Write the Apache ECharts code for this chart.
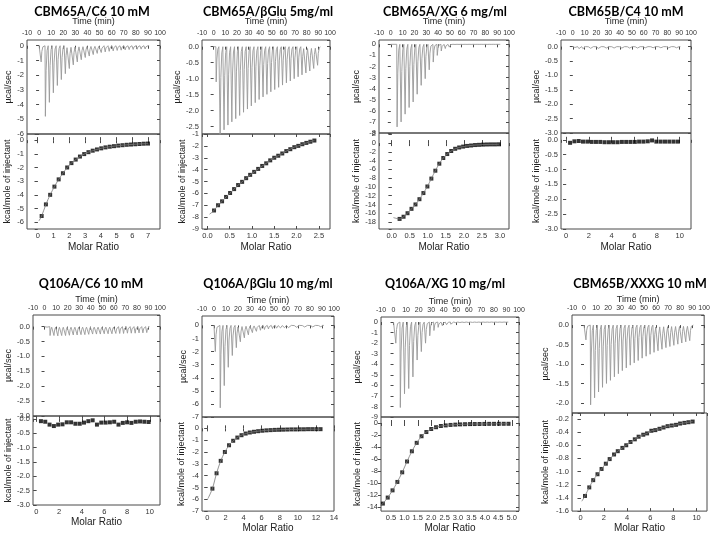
<!DOCTYPE html>
<html><head><meta charset="utf-8">
<script src="https://cdn.jsdelivr.net/npm/echarts@6/dist/echarts.min.js"></script>
<style>html,body{margin:0;padding:0;background:#fff}#c{width:713px;height:534px}</style>
</head><body><div id="c"></div><script>
// ---------------- DATA ----------------
const titles = ['CBM65A/C6 10 mM','CBM65A/\u03B2Glu 5mg/ml','CBM65A/XG 6 mg/ml','CBM65B/C4 10 mM',
                'Q106A/C6 10 mM','Q106A/\u03B2Glu 10 mg/ml','Q106A/XG 10 mg/ml','CBM65B/XXXG 10 mM'];
const timeTicks = [-10,0,10,20,30,40,50,60,70,80,90,100];

// Panel 1 CBM65A/C6
const p1Span = [0, 91];
const p1InjTime = [1.4,4.9,8.2,11.5,14.8,18.1,21.4,24.7,28.0,31.3,34.6,37.9,41.2,44.5,47.8,51.1,54.4,57.7,61.0,64.3,67.6,70.9,74.2,77.5,80.8,84.1,87.4];
const p1InjPeak = [-1.1,-4.8,-3.85,-3.2,-2.7,-2.3,-1.9,-1.55,-1.3,-1.1,-0.95,-0.8,-0.7,-0.6,-0.52,-0.46,-0.42,-0.38,-0.35,-0.32,-0.3,-0.28,-0.26,-0.25,-0.24,-0.23,-0.22];
const p1Ratio = [0.25,0.52,0.79,1.06,1.33,1.6,1.87,2.14,2.41,2.68,2.95,3.22,3.49,3.76,4.03,4.3,4.57,4.84,5.11,5.38,5.65,5.92,6.19,6.46,6.73,7.0];
const p1Heat = [-5.55,-4.7,-4.0,-3.4,-2.87,-2.42,-2.0,-1.68,-1.42,-1.2,-1.02,-0.88,-0.77,-0.68,-0.6,-0.53,-0.48,-0.44,-0.4,-0.37,-0.34,-0.32,-0.3,-0.28,-0.26,-0.25];
const p1FitStart = [0.08, -5.9];

// Panel 2 CBM65A/bGlu
const p2Span = [0, 91];
const p2InjTime = [1.9,5.3,8.65,12.0,15.35,18.7,22.05,25.4,28.75,32.1,35.45,38.8,42.15,45.5,48.85,52.2,55.55,58.9,62.25,65.6,68.95,72.3,75.65,79.0,82.35,85.7,89.05];
const p2InjPeak = [-1.1,-2.75,-2.6,-2.45,-2.35,-2.25,-2.15,-2.05,-1.95,-1.85,-1.75,-1.65,-1.57,-1.49,-1.41,-1.34,-1.27,-1.2,-1.13,-1.07,-1.0,-0.94,-0.88,-0.82,-0.76,-0.68,-0.58];
const p2Ratio = [0.15,0.24,0.33,0.42,0.51,0.6,0.69,0.78,0.87,0.96,1.05,1.14,1.23,1.32,1.41,1.5,1.59,1.68,1.77,1.86,1.95,2.04,2.13,2.22,2.31,2.4];
const p2Heat = [-7.44,-7.0,-6.67,-6.3,-5.97,-5.64,-5.3,-5.03,-4.72,-4.44,-4.19,-3.94,-3.69,-3.47,-3.22,-3.0,-2.83,-2.64,-2.44,-2.28,-2.11,-2.0,-1.86,-1.75,-1.65,-1.55];
const p2FitStart = [0.05, -7.75];

// Panel 3 CBM65A/XG
const p3Span = [0, 92];
const p3InjTime = [5.0,8.4,11.8,15.2,18.6,22.0,25.4,28.8,32.2,35.6,39.0,42.4,45.8,49.2,52.6,56.0,59.4,62.8,66.2,69.6,73.0,76.4,79.8,83.2,86.6,90.0];
const p3InjPeak = [-7.45,-7.0,-6.3,-5.7,-5.2,-4.5,-3.7,-3.1,-2.3,-1.6,-1.0,-0.6,-0.38,-0.25,-0.18,-0.14,-0.12,-0.1,-0.09,-0.08,-0.08,-0.07,-0.07,-0.06,-0.06,-0.06];
const p3Ratio = [0.22,0.33,0.44,0.55,0.66,0.77,0.88,0.99,1.1,1.21,1.32,1.43,1.54,1.65,1.76,1.87,1.98,2.09,2.2,2.31,2.42,2.53,2.64,2.75,2.86,2.97];
const p3Heat = [-17.3,-16.8,-16.0,-15.0,-14.0,-12.8,-11.4,-9.9,-8.1,-6.3,-4.7,-3.4,-2.5,-1.8,-1.3,-1.0,-0.8,-0.65,-0.55,-0.45,-0.4,-0.35,-0.32,-0.3,-0.3,-0.28];
const p3FitStart = [0.05, -17.0];

// Panel 4 CBM65B/C4
const p4Span = [0, 91];
const p4InjTime = [1.5,4.9,8.2,11.5,14.8,18.1,21.4,24.7,28.0,31.3,34.6,37.9,41.2,44.5,47.8,51.1,54.4,57.7,61.0,64.3,67.6,70.9,74.2,77.5,80.8,84.1,87.4];
const p4InjPeak = [-0.03,-0.07,-0.07,-0.06,-0.06,-0.06,-0.06,-0.05,-0.05,-0.05,-0.05,-0.05,-0.05,-0.05,-0.05,-0.05,-0.05,-0.05,-0.04,-0.04,-0.04,-0.04,-0.04,-0.04,-0.04,-0.04,-0.04];
const p4Ratio = [0.35,0.73,1.11,1.49,1.87,2.25,2.63,3.01,3.39,3.77,4.15,4.53,4.91,5.29,5.67,6.05,6.43,6.81,7.19,7.57,7.95,8.33,8.71,9.09,9.47,9.85];
const p4Heat = [-0.1,-0.05,-0.04,-0.06,-0.06,-0.07,-0.07,-0.07,-0.08,-0.08,-0.08,-0.08,-0.07,-0.07,-0.07,-0.07,-0.06,-0.06,-0.05,-0.02,-0.06,-0.06,-0.06,-0.06,-0.06,-0.06];

// Panel 5 Q106A/C6
const p5Span = [0, 91];
const p5InjTime = [1.2,4.5,7.85,11.2,14.55,17.9,21.25,24.6,27.95,31.3,34.65,38.0,41.35,44.7,48.05,51.4,54.75,58.1,61.45,64.8,68.15,71.5,74.85,78.2,81.55,84.9,88.25];
const p5InjPeak = [-0.05,-0.3,-0.3,-0.31,-0.3,-0.3,-0.29,-0.28,-0.28,-0.27,-0.27,-0.26,-0.25,-0.25,-0.25,-0.24,-0.24,-0.24,-0.23,-0.23,-0.23,-0.22,-0.22,-0.22,-0.21,-0.21,-0.2];
const p5Ratio = [0.4,0.78,1.16,1.54,1.92,2.3,2.68,3.06,3.44,3.82,4.2,4.58,4.96,5.34,5.72,6.1,6.48,6.86,7.24,7.62,8.0,8.38,8.76,9.14,9.52,9.9];
const p5Heat = [-0.08,-0.1,-0.2,-0.25,-0.2,-0.19,-0.12,-0.12,-0.17,-0.17,-0.13,-0.08,-0.05,-0.2,-0.13,-0.13,-0.12,-0.1,-0.2,-0.14,-0.12,-0.14,-0.1,-0.09,-0.1,-0.11];

// Panel 6 Q106A/bGlu
const p6Span = [0, 90];
const p6InjTime = [0.8,4.9,8.25,11.6,14.95,18.3,21.65,25.0,28.35,31.7,35.05,38.4,41.75,45.1,48.45,51.8,55.15,58.5,61.85,65.2,68.55,71.9,75.25,78.6,81.95,85.3,88.65];
const p6InjPeak = [-2.0,-6.3,-4.6,-3.2,-2.3,-1.7,-1.25,-0.95,-0.72,-0.55,-0.45,-0.37,-0.31,-0.27,-0.24,-0.21,-0.19,-0.17,-0.16,-0.15,-0.14,-0.13,-0.12,-0.12,-0.11,-0.11,-0.1];
const p6Ratio = [0.55,1.01,1.47,1.93,2.39,2.85,3.31,3.77,4.23,4.69,5.15,5.61,6.07,6.53,6.99,7.45,7.91,8.37,8.83,9.29,9.75,10.21,10.67,11.13,11.59,12.05,12.51];
const p6Heat = [-5.1,-3.8,-2.75,-2.0,-1.43,-1.05,-0.78,-0.58,-0.44,-0.35,-0.29,-0.24,-0.2,-0.17,-0.15,-0.13,-0.12,-0.11,-0.1,-0.09,-0.09,-0.08,-0.08,-0.07,-0.07,-0.07,-0.07];
const p6FitStart = [0.05, -5.95];

// Panel 7 Q106A/XG
const p7Span = [0, 92];
const p7InjTime = [1.5,5.1,8.45,11.8,15.15,18.5,21.85,25.2,28.55,31.9,35.25,38.6,41.95,45.3,48.65,52.0,55.35,58.7,62.05,65.4,68.75,72.1,75.45,78.8,82.15,85.5,88.85];
const p7InjPeak = [-2.0,-8.1,-6.8,-6.3,-5.2,-3.6,-2.8,-2.0,-1.3,-0.8,-0.5,-0.35,-0.25,-0.2,-0.16,-0.13,-0.11,-0.1,-0.09,-0.08,-0.08,-0.07,-0.07,-0.06,-0.06,-0.06,-0.05];
const p7Ratio = [0.2,0.38,0.56,0.74,0.92,1.1,1.28,1.46,1.64,1.82,2.0,2.18,2.36,2.54,2.72,2.9,3.08,3.26,3.44,3.62,3.8,3.98,4.16,4.34,4.52,4.7,4.88];
const p7Heat = [-13.4,-12.4,-11.2,-9.8,-8.2,-6.4,-4.7,-3.3,-2.2,-1.5,-1.0,-0.7,-0.5,-0.4,-0.32,-0.27,-0.23,-0.2,-0.18,-0.17,-0.16,-0.15,-0.14,-0.14,-0.13,-0.13,-0.13];
const p7FitStart = [0.12, -13.7];

// Panel 8 CBM65B/XXXG
const p8Span = [0, 91];
const p8InjTime = [1.3,5.2,8.5,11.8,15.1,18.4,21.7,25.0,28.3,31.6,34.9,38.2,41.5,44.8,48.1,51.4,54.7,58.0,61.3,64.6,67.9,71.2,74.5,77.8,81.1,84.4,87.7];
const p8InjPeak = [-0.38,-2.05,-1.87,-1.72,-1.6,-1.5,-1.42,-1.33,-1.25,-1.17,-1.1,-1.03,-0.97,-0.91,-0.85,-0.8,-0.75,-0.7,-0.66,-0.62,-0.58,-0.55,-0.52,-0.49,-0.46,-0.43,-0.4];
const p8Ratio = [0.37,0.74,1.08,1.45,1.8,2.17,2.5,2.88,3.2,3.6,3.93,4.3,4.67,5.0,5.4,5.73,6.1,6.44,6.8,7.15,7.5,7.86,8.23,8.58,8.95,9.3,9.66];
const p8Heat = [-1.37,-1.24,-1.13,-1.04,-0.96,-0.88,-0.81,-0.74,-0.69,-0.64,-0.6,-0.55,-0.51,-0.47,-0.44,-0.42,-0.38,-0.37,-0.35,-0.33,-0.31,-0.3,-0.29,-0.27,-0.26,-0.25,-0.24];
const p8FitStart = [0.1, -1.45];

// ---------------- LAYOUT ----------------
const panels = [
 {span:p1Span, it:p1InjTime, ip:p1InjPeak, rx:p1Ratio, hy:p1Heat, fit:p1FitStart},
 {span:p2Span, it:p2InjTime, ip:p2InjPeak, rx:p2Ratio, hy:p2Heat, fit:p2FitStart},
 {span:p3Span, it:p3InjTime, ip:p3InjPeak, rx:p3Ratio, hy:p3Heat, fit:p3FitStart},
 {span:p4Span, it:p4InjTime, ip:p4InjPeak, rx:p4Ratio, hy:p4Heat, fit:null},
 {span:p5Span, it:p5InjTime, ip:p5InjPeak, rx:p5Ratio, hy:p5Heat, fit:null},
 {span:p6Span, it:p6InjTime, ip:p6InjPeak, rx:p6Ratio, hy:p6Heat, fit:p6FitStart},
 {span:p7Span, it:p7InjTime, ip:p7InjPeak, rx:p7Ratio, hy:p7Heat, fit:p7FitStart},
 {span:p8Span, it:p8InjTime, ip:p8InjPeak, rx:p8Ratio, hy:p8Heat, fit:p8FitStart}
];
const L = [
 {tx:92, ty:12, l:27, r:160, t:40, m:134, b:229, gT:14, gB:15, gX:13, gTime:14,
  ty1:{min:-6,max:0.39,step:1,dec:0,hideMax:true},
  by:{min:-6.5,max:0.45,step:1,dec:0,hideMin:true,hideMax:true},
  bx:{min:-0.68,max:7.76,step:1,dec:0,hideMin:true,hideMax:true}},
 {tx:268, ty:12, l:202, r:330, t:40, m:134, b:229, gT:15, gB:15, gX:13, gTime:14,
  ty1:{min:-2.73,max:0.21,step:0.5,dec:1,hideMin:true,hideMax:true},
  by:{min:-9,max:-1,step:1,dec:0},
  bx:{min:-0.12,max:2.75,step:0.5,dec:1,hideMin:true,hideMax:true}},
 {tx:445, ty:12, l:379, r:509, t:40, m:133, b:229, gT:18, gB:18, gX:13, gTime:14,
  ty1:{min:-8,max:0.39,step:1,dec:0,hideMax:true},
  by:{min:-19.6,max:2.3,step:2,dec:0,hideMin:true,hideMax:true},
  bx:{min:-0.35,max:3.25,step:0.5,dec:1,hideMin:true,hideMax:true}},
 {tx:626, ty:12, l:561, r:691, t:40, m:133, b:229, gT:17, gB:17, gX:13, gTime:14,
  ty1:{min:-3,max:0.23,step:0.5,dec:1,hideMax:true},
  by:{min:-3,max:0.23,step:0.5,dec:1,hideMax:true},
  bx:{min:-0.45,max:11,step:2,dec:0,hideMin:true,hideMax:true}},
 {tx:91, ty:284, l:33, r:160, t:315, m:416, b:505, gT:14, gB:15, gX:11, gTime:10,
  ty1:{min:-3,max:0.39,step:0.5,dec:1,hideMax:true},
  by:{min:-3,max:0.1,step:0.5,dec:1,hideMax:true},
  bx:{min:-0.3,max:10.9,step:2,dec:0,hideMin:true,hideMax:true}},
 {tx:268, ty:284, l:202, r:334, t:316, m:417, b:513, gT:12, gB:16, gX:11, gTime:10,
  ty1:{min:-7,max:0.72,step:1,dec:0,hideMax:true},
  by:{min:-7,max:0.96,step:1,dec:0,hideMax:true},
  bx:{min:-0.6,max:14,step:2,dec:0,hideMin:true}},
 {tx:445, ty:284, l:381, r:519, t:317, m:417, b:515, gT:19, gB:19, gX:11, gTime:10,
  ty1:{min:-9,max:0.48,step:1,dec:0,hideMax:true},
  by:{min:-14.65,max:1.0,step:2,dec:0,hideMin:true,hideMax:true},
  bx:{min:0.13,max:5.27,step:0.5,dec:1,hideMin:true,hideMax:true}},
 {tx:640, ty:284, l:572, r:707, t:315, m:413, b:514, gT:22, gB:22, gX:11, gTime:10,
  ty1:{min:-2.26,max:0.26,step:0.5,dec:1,hideMin:true,hideMax:true},
  by:{min:-1.6,max:-0.11,step:0.2,dec:1,hideMax:true},
  bx:{min:-0.75,max:10.9,step:2,dec:0,hideMin:true,hideMax:true}}
];

const FONT = '"Liberation Sans", Arial, sans-serif';
const AX = '#4a4a4a';

function trace(span, times, peaks) {
  const pts = [[span[0], 0]];
  for (let i = 0; i < times.length; i++) {
    const t = times[i], h = peaks[i];
    pts.push([t, 0], [t + 0.3, h], [t + 0.9, h * 0.35], [t + 1.7, h * 0.07], [t + 2.6, 0]);
  }
  pts.push([span[1], 0]);
  return pts;
}
function fmt(dec) { return v => (Math.abs(v) < 1e-9 ? 0 : v).toFixed(dec); }
function valAxis(c, extra) {
  const o = {type:'value', min:c.min, max:c.max, splitLine:{show:false}, axisLine:{show:false},
    axisTick:{show:true, length:3, lineStyle:{color:AX, width:1}},
    axisLabel:{fontSize:7.5, color:'#333', fontFamily:FONT, margin:3,
      showMinLabel:!c.hideMin, showMaxLabel:!c.hideMax, formatter:fmt(c.dec)}};
  const r = c.min / c.step;
  if (Math.abs(r - Math.round(r)) < 1e-6) o.interval = c.step;
  else { o.minInterval = c.step; o.maxInterval = c.step; }
  return Object.assign(o, extra || {});
}
const nameStyle = {fontSize:9, color:'#222', fontFamily:FONT};

const grid = [], xAxis = [], yAxis = [], series = [], graphic = [];
panels.forEach((p, i) => {
  const g = L[i];
  const gTop = 2 * i, gBot = 2 * i + 1;
  grid.push({left:g.l, top:g.t, width:g.r - g.l, height:g.m - g.t, show:true, borderColor:AX, borderWidth:1});
  grid.push({left:g.l, top:g.m, width:g.r - g.l, height:g.b - g.m, show:true, borderColor:AX, borderWidth:1});
  const xTime = xAxis.length;
  xAxis.push(valAxis({min:timeTicks[0], max:timeTicks[timeTicks.length-1], step:10, dec:0},
    {gridIndex:gTop, position:'top', name:'Time (min)', nameLocation:'middle', nameGap:g.gTime, nameTextStyle:nameStyle}));
  xAxis[xTime].axisTick.inside = true;
  xAxis[xTime].axisLabel.fontSize = 7;
  const xMol = xAxis.length;
  xAxis.push(valAxis(g.bx, {gridIndex:gBot, position:'bottom', name:'Molar Ratio', nameLocation:'middle', nameGap:g.gX, nameTextStyle:Object.assign({}, nameStyle, {fontSize:10})}));
  xAxis[xMol].axisTick.inside = true;
  const xMir = xAxis.length;
  xAxis.push(valAxis(g.bx, {gridIndex:gBot, position:'top'}));
  xAxis[xMir].axisTick.inside = true; xAxis[xMir].axisLabel.show = false;
  const yTop = yAxis.length;
  yAxis.push(valAxis(g.ty1, {gridIndex:gTop, position:'left', name:'\u00B5cal/sec', nameLocation:'middle', nameGap:g.gT, nameTextStyle:nameStyle}));
  const yTopR = yAxis.length;
  yAxis.push(valAxis(g.ty1, {gridIndex:gTop, position:'right'}));
  yAxis[yTopR].axisTick.inside = true; yAxis[yTopR].axisLabel.show = false;
  const yBot = yAxis.length;
  yAxis.push(valAxis(g.by, {gridIndex:gBot, position:'left', name:'kcal/mole of injectant', nameLocation:'middle', nameGap:g.gB, nameTextStyle:nameStyle}));
  const yBotR = yAxis.length;
  yAxis.push(valAxis(g.by, {gridIndex:gBot, position:'right'}));
  yAxis[yBotR].axisTick.inside = true; yAxis[yBotR].axisLabel.show = false;

  series.push({type:'line', xAxisIndex:xTime, yAxisIndex:yTop, data:trace(p.span, p.it, p.ip),
    symbol:'none', lineStyle:{color:'#999', width:0.9}, animation:false, silent:true});
  const pts = p.rx.map((x, k) => [x, p.hy[k]]);
  if (p.fit) {
    series.push({type:'line', xAxisIndex:xMol, yAxisIndex:yBot, data:[p.fit].concat(pts),
      symbol:'none', smooth:0.3, lineStyle:{color:'#777', width:0.8}, animation:false, silent:true});
  }
  series.push({type:'scatter', xAxisIndex:xMol, yAxisIndex:yBot, data:pts, symbol:'rect', symbolSize:4,
    itemStyle:{color:'#000'}, animation:false, silent:true});
  graphic.push({type:'text', x:g.tx, y:g.ty, silent:true,
    style:{text:titles[i], fontSize:12.5, fontWeight:'bold', fontFamily:'Lato, "Open Sans", sans-serif', fill:'#000', align:'center', verticalAlign:'middle'}});
});

const chart = echarts.init(document.getElementById('c'), null, {renderer:'canvas'});
chart.setOption({backgroundColor:'#fff', animation:false, grid, xAxis, yAxis, series, graphic});
</script></body></html>
